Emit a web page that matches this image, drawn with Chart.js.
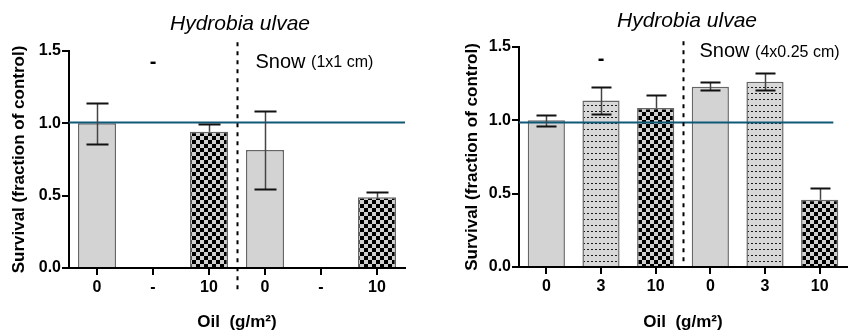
<!DOCTYPE html>
<html>
<head>
<meta charset="utf-8">
<script src="https://cdn.jsdelivr.net/npm/chart.js"></script>
<style>
  html, body { margin: 0; padding: 0; background: #fff; }
  #wrap { position: relative; width: 856px; height: 336px; }
  .box { position: absolute; top: 0; height: 336px; }
  #boxA { left: 0; width: 430px; }
  #boxB { left: 430px; width: 426px; }
</style>
</head>
<body>
<div id="wrap">
  <div class="box" id="boxA"><canvas id="chartA"></canvas></div>
  <div class="box" id="boxB"><canvas id="chartB"></canvas></div>
</div>
<script>
// Left panel: snow 1x1 cm
const labelsA = ['0', '-', '10', '0', '-', '10'];
const valuesA = [1.0, null, 0.942, 0.815, null, 0.489];
const upperA  = [1.143, null, 0.995, 1.087, null, 0.523];
const lowerA  = [0.857, null, 0.889, 0.546, null, 0.455];
const fillsA  = ['gray', 'none', 'checker', 'gray', 'none', 'checker'];

// Right panel: snow 4x0.25 cm
const labelsB = ['0', '3', '10', '0', '3', '10'];
const valuesB = [1.0, 1.136, 1.084, 1.229, 1.263, 0.459];
const upperB  = [1.033, 1.224, 1.172, 1.258, 1.322, 0.54];
const lowerB  = [0.963, 1.045, 0.996, 1.204, 1.207, 0.378];
const fillsB  = ['gray', 'dots', 'checker', 'gray', 'dots', 'checker'];

const yTicks = [0, 0.5, 1.0, 1.5];
const refLineA = 1.01;
const refLineB = 0.99;

const FONT = "Arial, 'Liberation Sans', Helvetica, sans-serif";

// fill patterns
function makePattern(kind) {
  const c = document.createElement('canvas');
  const g = c.getContext('2d');
  if (kind === 'checker') {
    c.width = 8; c.height = 8;
    g.fillStyle = '#000'; g.fillRect(0, 0, 8, 8);
    g.fillStyle = '#d0d0d0';
    g.fillRect(0, 0, 4, 4); g.fillRect(4, 4, 4, 4);
  } else {
    c.width = 4; c.height = 6;
    g.fillStyle = '#d8d8d8'; g.fillRect(0, 0, 4, 6);
    g.fillStyle = '#1a1a1a'; g.fillRect(1, 3, 2, 1);
  }
  return g.createPattern(c, 'repeat');
}
const patterns = { gray: '#d3d3d3', none: 'rgba(0,0,0,0)', checker: makePattern('checker'), dots: makePattern('dots') };

function drawErr(chart, opts, behind) {
  const { ctx } = chart;
  const x = chart.scales.x, y = chart.scales.y;
  opts.upper.forEach((u, i) => {
    if (u == null) return;
    const dark = opts.fills[i] === 'checker';
    const cx = Math.round(x.getPixelForValue(i)) + 0.5;
    const yu = Math.round(y.getPixelForValue(u)) + 0.5;
    const yl = Math.round(y.getPixelForValue(opts.lower[i])) + 0.5;
    const yv = y.getPixelForValue(opts.values[i]);
    ctx.lineWidth = 1.5;
    ctx.strokeStyle = '#444';
    if (behind) {
      if (!dark) return;
      // lower half sits under the dark bar
      ctx.beginPath(); ctx.moveTo(cx, yv); ctx.lineTo(cx, yl); ctx.stroke();
      return;
    }
    ctx.beginPath(); ctx.moveTo(cx, yu); ctx.lineTo(cx, dark ? yv : yl); ctx.stroke();
    ctx.strokeStyle = '#111';
    ctx.lineWidth = 2;
    ctx.beginPath();
    ctx.moveTo(cx - opts.cap, yu); ctx.lineTo(cx + opts.cap, yu);
    if (!dark) { ctx.moveTo(cx - opts.cap, yl); ctx.lineTo(cx + opts.cap, yl); }
    ctx.stroke();
  });
}

// error bars, divider, reference line and in-plot text
const extras = {
  id: 'extras',
  beforeDatasetsDraw(chart, args, opts) {
    chart.ctx.save();
    drawErr(chart, opts, true);
    chart.ctx.restore();
  },
  afterDatasetsDraw(chart, args, opts) {
    const { ctx, chartArea } = chart;
    const x = chart.scales.x, y = chart.scales.y;
    ctx.save();
    // reference line
    ctx.strokeStyle = '#0f5878';
    ctx.lineWidth = 2;
    ctx.beginPath();
    const ry = Math.round(y.getPixelForValue(opts.refLine)) + 0.5;
    ctx.moveTo(chartArea.left, ry);
    ctx.lineTo(x.getPixelForValue(opts.refEnd), ry);
    ctx.stroke();
    drawErr(chart, opts, false);
    // dashed divider
    const dx = Math.round((x.getPixelForValue(2) + x.getPixelForValue(3)) / 2) + 0.5;
    ctx.strokeStyle = '#000';
    ctx.lineWidth = 2;
    ctx.setLineDash([4, 5]);
    ctx.beginPath();
    ctx.moveTo(dx, y.getPixelForValue(opts.divTop));
    ctx.lineTo(dx, chartArea.bottom + opts.divBelow);
    ctx.stroke();
    ctx.setLineDash([]);
    // title
    ctx.fillStyle = '#000';
    ctx.textAlign = 'center';
    ctx.textBaseline = 'middle';
    ctx.font = 'italic 21px ' + FONT;
    ctx.fillText(opts.title, (chartArea.left + chartArea.right) / 2 + opts.titleShift, opts.titleY);
    // "-" over control group
    ctx.font = 'bold 20px ' + FONT;
    ctx.fillText('-', x.getPixelForValue(1), y.getPixelForValue(opts.dashY));
    // Snow label
    ctx.textAlign = 'left';
    ctx.font = '20px ' + FONT;
    const sy = y.getPixelForValue(opts.snowY);
    const sx = dx + opts.snowGap;
    ctx.fillText('Snow', sx, sy);
    const w = ctx.measureText('Snow ').width;
    ctx.font = '16px ' + FONT;
    ctx.fillText(opts.snowSize, sx + w, sy + 1);
    ctx.restore();
  }
};

function build(id, labels, values, fills, cfg) {
  return new Chart(document.getElementById(id), {
    type: 'bar',
    data: {
      labels: labels,
      datasets: [{
        data: values,
        backgroundColor: fills.map(f => patterns[f]),
        borderColor: fills.map(f => f === 'none' ? 'rgba(0,0,0,0)' : '#666'),
        borderWidth: 1.5,
        borderSkipped: 'bottom',
        categoryPercentage: 1,
        barPercentage: 0.68
      }]
    },
    options: {
      responsive: true,
      maintainAspectRatio: false,
      animation: false,
      layout: { padding: { left: cfg.padLeft, right: cfg.padRight, top: cfg.padTop, bottom: 0 } },
      plugins: {
        legend: { display: false },
        tooltip: { enabled: false },
        extras: Object.assign({ values: values, fills: fills }, cfg.extras)
      },
      scales: {
        x: {
          grid: { offset: false, drawOnChartArea: false, tickLength: 7, color: '#000', lineWidth: 2 },
          border: { color: '#000', width: 2 },
          ticks: { color: '#000', padding: 3, font: { family: FONT, size: 16, weight: 'bold' } },
          title: { display: true, text: 'Oil  (g/m²)', color: '#000', padding: { top: 0, bottom: 3 },
                   font: { family: FONT, size: 17, weight: 'bold' } },
          afterFit(s) { s.height = cfg.xHeight; }
        },
        y: {
          min: 0, max: 1.5,
          afterBuildTicks(s) { s.ticks = yTicks.map(v => ({ value: v })); },
          grid: { drawOnChartArea: false, tickLength: 7, color: '#000', lineWidth: 2 },
          border: { color: '#000', width: 2 },
          ticks: { color: '#000', padding: 1, callback: v => v.toFixed(1),
                   font: { family: FONT, size: 16, weight: 'bold' } },
          title: { display: true, text: 'Survival (fraction of control)', color: '#000',
                   padding: { top: 9, bottom: 0 }, font: { family: FONT, size: 17, weight: 'bold' } },
          afterFit(s) { s.width = cfg.yWidth; }
        }
      }
    },
    plugins: [extras]
  });
}

build('chartA', labelsA, valuesA, fillsA, {
  padLeft: 0, padRight: 25, padTop: 51, yWidth: 69, xHeight: 68,
  extras: { upper: upperA, lower: lowerA, refLine: refLineA, refEnd: 5.5, cap: 11,
            divTop: 1.56, divBelow: 22, title: 'Hydrobia ulvae', titleShift: 3, titleY: 24,
            dashY: 1.424, snowY: 1.424, snowGap: 18, snowSize: '(1x1 cm)' }
});

build('chartB', labelsB, valuesB, fillsB, {
  padLeft: 23, padRight: 9, padTop: 47, yWidth: 66, xHeight: 69,
  extras: { upper: upperB, lower: lowerB, refLine: refLineB, refEnd: 5.25, cap: 10,
            divTop: 1.54, divBelow: 0, title: 'Hydrobia ulvae', titleShift: 4, titleY: 21,
            dashY: 1.413, snowY: 1.47, snowGap: 16, snowSize: '(4x0.25 cm)' }
});
</script>
</body>
</html>
